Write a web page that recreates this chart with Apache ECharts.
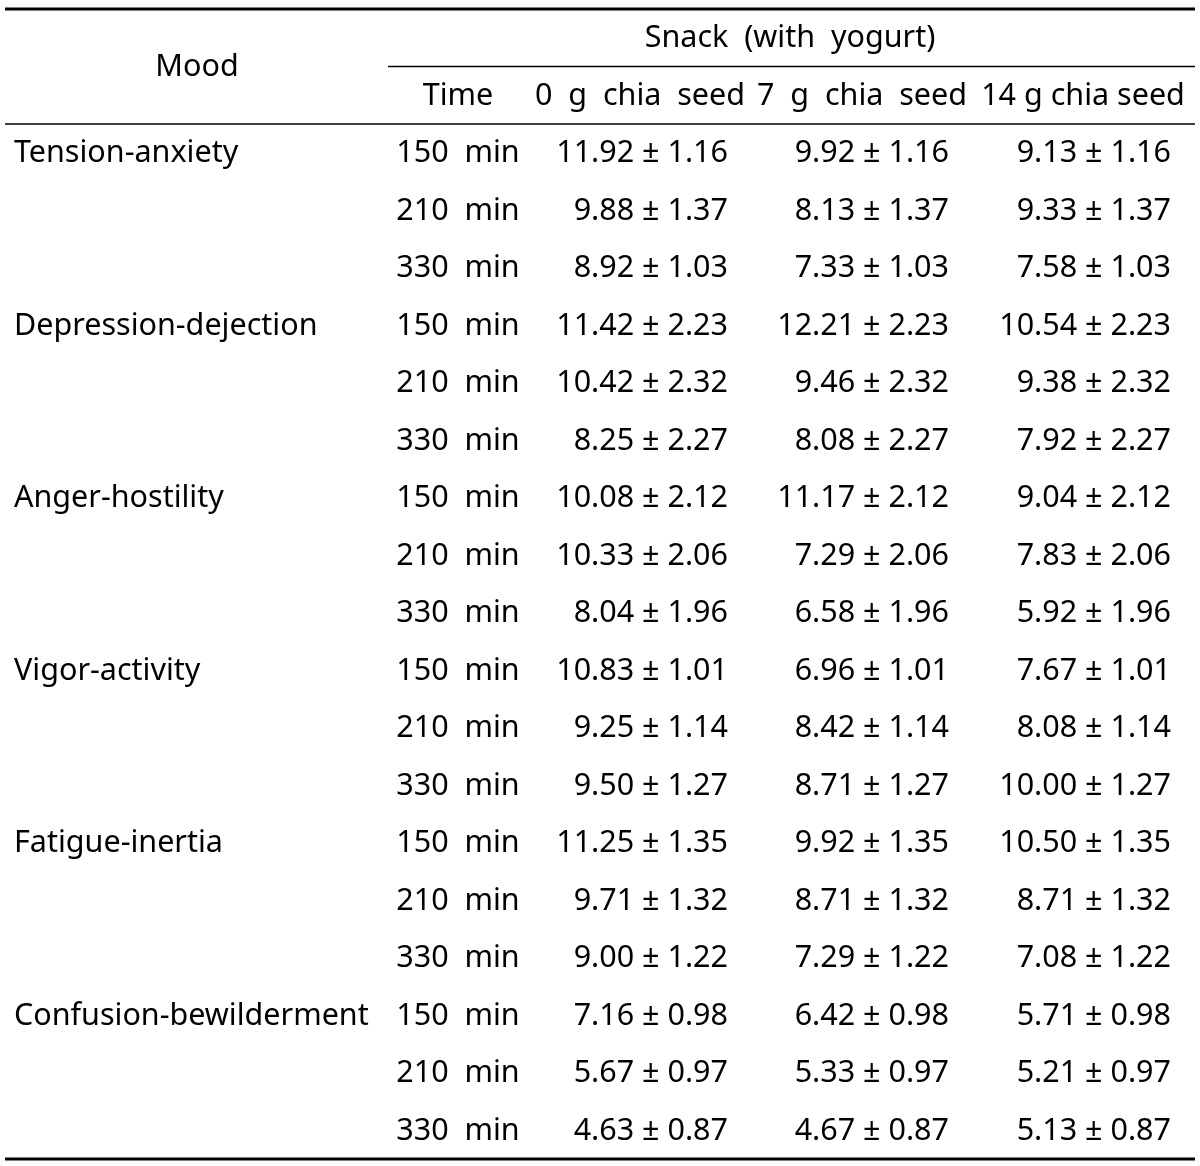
<!DOCTYPE html>
<html><head><meta charset="utf-8">
<script src="https://cdn.jsdelivr.net/npm/echarts@6/dist/echarts.min.js"></script>
<style>html,body{margin:0;padding:0;background:#fff}#c{width:1200px;height:1166px}</style>
</head><body><div id="c"></div>
<script>
// ---- data ----
const moods = ['Tension-anxiety','Depression-dejection','Anger-hostility','Vigor-activity','Fatigue-inertia','Confusion-bewilderment'];
const times = ['150  min','210  min','330  min'];
const groups = ['0  g  chia  seed','7  g  chia  seed','14 g chia seed'];
const mean0  = [11.92, 9.88, 8.92, 11.42, 10.42, 8.25, 10.08, 10.33, 8.04, 10.83, 9.25, 9.50, 11.25, 9.71, 9.00, 7.16, 5.67, 4.63];
const mean7  = [9.92, 8.13, 7.33, 12.21, 9.46, 8.08, 11.17, 7.29, 6.58, 6.96, 8.42, 8.71, 9.92, 8.71, 7.29, 6.42, 5.33, 4.67];
const mean14 = [9.13, 9.33, 7.58, 10.54, 9.38, 7.92, 9.04, 7.83, 5.92, 7.67, 8.08, 10.00, 10.50, 8.71, 7.08, 5.71, 5.21, 5.13];
const sd     = [1.16, 1.37, 1.03, 2.23, 2.32, 2.27, 2.12, 2.06, 1.96, 1.01, 1.14, 1.27, 1.35, 1.32, 1.22, 0.98, 0.97, 0.87];

// ---- layout ----
const FONT = '"Noto Sans", sans-serif';
const FS = 30.5;
const HEAD = 2; // header rows
const colX = {mood: 14, moodHead: 197, time: 458, g: [728, 949, 1171], gHead: [640, 862, 1083], snack: 790};

function cells() {
  const out = []; // [x, y, text, align]
  out.push([colX.moodHead, 1, 'Mood', 'center']);
  out.push([colX.snack, 0.5, 'Snack  (with  yogurt)', 'center']);
  out.push([colX.time, 1.5, 'Time', 'center']);
  groups.forEach((g, i) => out.push([colX.gHead[i], 1.5, g, 'center']));
  const means = [mean0, mean7, mean14];
  for (let r = 0; r < sd.length; r++) {
    const y = HEAD + r + 0.5;
    if (r % 3 === 0) out.push([colX.mood, y, moods[r / 3], 'left']);
    out.push([colX.time, y, times[r % 3], 'center']);
    means.forEach((m, i) => out.push([colX.g[i], y, m[r].toFixed(2) + ' ± ' + sd[r].toFixed(2), 'right']));
  }
  return out;
}
const cellData = cells();
const rules = [[5, 1195, 0, 3], [388, 1195, 1, 1.5], [5, 1195, 2, 1.5], [5, 1195, HEAD + sd.length, 3]];

const chart = echarts.init(document.getElementById('c'));
chart.setOption({
  animation: false,
  grid: {left: 0, right: 0, top: 9, height: 1150},
  xAxis: {type: 'value', min: 0, max: 1200, show: false},
  yAxis: {type: 'value', min: 0, max: HEAD + sd.length, inverse: true, show: false},
  series: [
    {
      type: 'custom', silent: true,
      data: rules,
      renderItem: (params, api) => {
        const a = api.coord([api.value(0), api.value(2)]);
        const b = api.coord([api.value(1), api.value(2)]);
        return {type: 'line', shape: {x1: a[0], y1: a[1], x2: b[0], y2: b[1]}, style: {stroke: '#000', lineWidth: api.value(3)}};
      }
    },
    {
      type: 'custom', silent: true,
      data: cellData.map(c => [c[0], c[1]]),
      renderItem: (params, api) => {
        const c = cellData[params.dataIndex];
        const p = api.coord([api.value(0), api.value(1)]);
        return {type: 'text', x: p[0], y: p[1] + 1, style: {text: c[2], fill: '#000', font: FS + 'px ' + FONT, textAlign: c[3], textVerticalAlign: 'middle'}};
      }
    }
  ]
});
</script></body></html>
